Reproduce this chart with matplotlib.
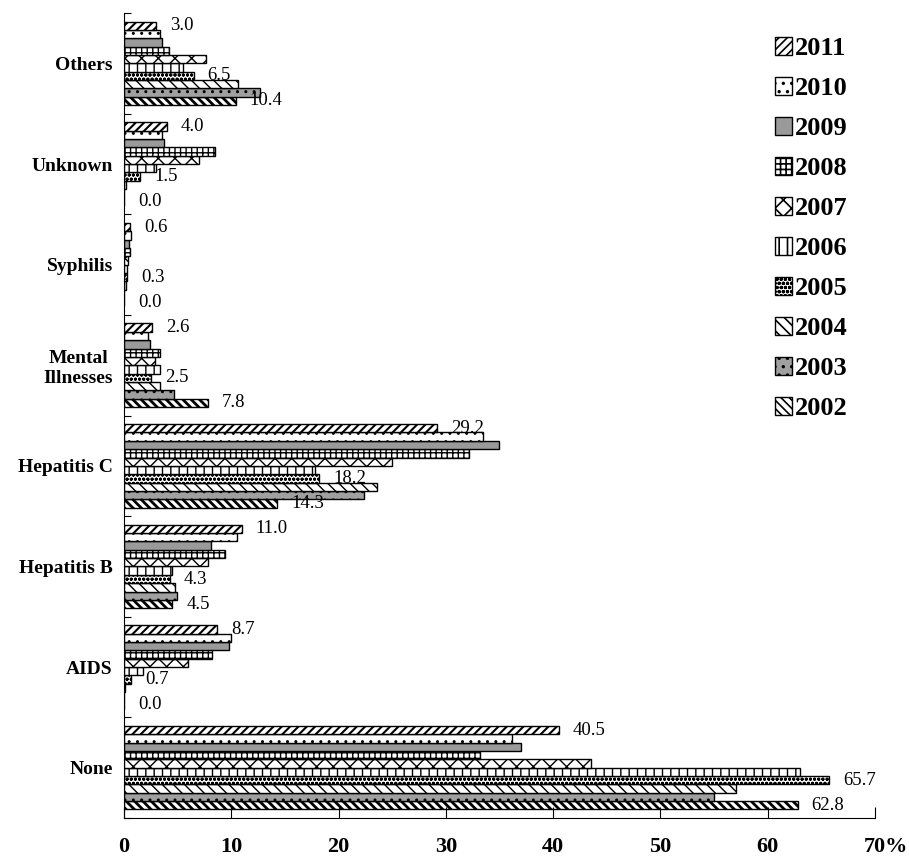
import numpy as np
import matplotlib
matplotlib.use('Agg')
import matplotlib.pyplot as plt
import matplotlib.transforms as mtransforms

plt.rcParams['font.family'] = ['Liberation Serif', 'DejaVu Serif']
plt.rcParams['hatch.linewidth'] = 1.2

# categories bottom -> top
categories = ['None', 'AIDS', 'Hepatitis B', 'Hepatitis C', 'Mental\nIllnesses',
              'Syphilis', 'Unknown', 'Others']
years = ['2002', '2003', '2004', '2005', '2006', '2007', '2008', '2009', '2010', '2011']

# percent per year, same order as categories
v2002 = [62.8, 0.0, 4.5, 14.3, 7.8, 0.0, 0.0, 10.4]
v2003 = [55.0, 0.0, 4.9, 22.4, 4.7, 0.0, 0.0, 12.7]
v2004 = [57.0, 0.1, 4.8, 23.6, 3.4, 0.2, 0.2, 10.6]
v2005 = [65.7, 0.7, 4.3, 18.2, 2.5, 0.3, 1.5, 6.5]
v2006 = [63.0, 1.8, 4.5, 17.8, 3.4, 0.3, 3.0, 5.5]
v2007 = [43.5, 6.0, 7.8, 25.0, 2.9, 0.4, 7.0, 7.6]
v2008 = [33.2, 8.2, 9.4, 32.2, 3.4, 0.55, 8.5, 4.2]
v2009 = [37.0, 9.8, 8.1, 35.0, 2.4, 0.5, 3.7, 3.5]
v2010 = [36.2, 10.0, 10.5, 33.5, 2.2, 0.7, 3.5, 3.4]
v2011 = [40.5, 8.7, 11.0, 29.2, 2.6, 0.6, 4.0, 3.0]
values = [v2002, v2003, v2004, v2005, v2006, v2007, v2008, v2009, v2010, v2011]

labelled_years = ['2002', '2005', '2011']

# fill, hatch, hatch line width
styles = {
    '2002': ('white', '\\\\\\\\', 2.0),
    '2003': ('#a0a0a0', '..', 1.0),
    '2004': ('white', '\\\\\\', 1.0),
    '2005': ('white', 'oooo', 1.0),
    '2006': ('white', '||', 1.0),
    '2007': ('white', 'xx', 1.0),
    '2008': ('white', '+++', 1.0),
    '2009': ('#9a9a9a', '', 1.0),
    '2010': ('white', '..', 1.0),
    '2011': ('white', '////', 1.5),
}

fig = plt.figure(figsize=(9.09, 8.6), dpi=100)
ax = fig.add_axes([0.1364, 0.0488, 0.8262, 0.936])

h = 0.083
y = np.arange(len(categories))
handles = {}
for j, yr in enumerate(years):
    fc, hatch, hlw = styles[yr]
    pos = y - 5 * h + (j + 0.5) * h
    with plt.rc_context({'hatch.linewidth': hlw}):
        bars = ax.barh(pos, values[j], height=h, color=fc, hatch=hatch,
                       edgecolor='black', linewidth=1.0, label=yr)
    handles[yr] = bars
    if yr in labelled_years:
        for p, v in zip(pos, values[j]):
            ax.annotate(f'{v:.1f}', (v, p), xytext=(10, 0), textcoords='offset points',
                        va='center', ha='left', fontsize=13.5)

ax.set_xlim(0, 70)
ax.set_ylim(-0.5, len(categories) - 0.5)

ax.spines['top'].set_visible(False)
ax.spines['right'].set_visible(False)

ax.set_xticks(np.arange(0, 71, 10))
ax.set_xticklabels(['0', '10', '20', '30', '40', '50', '60', '70%'],
                   fontsize=16, fontweight='bold')
ax.tick_params(axis='x', direction='in', length=8, pad=14)
last = ax.get_xticklabels()[-1]
last.set_transform(last.get_transform() +
                   mtransforms.ScaledTranslation(11 / 100, 0, fig.dpi_scale_trans))

ax.set_yticks(np.arange(-0.5, len(categories), 1.0))
ax.set_yticklabels([])
ax.tick_params(axis='y', which='major', direction='in', length=5)
ax.set_yticks(y, minor=True)
ax.set_yticklabels(categories, minor=True, fontsize=14, fontweight='bold',
                   multialignment='center')
ax.tick_params(axis='y', which='minor', length=0, pad=8)

order = years[::-1]
fig.legend([handles[yr] for yr in order], order, loc='upper left',
           bbox_to_anchor=(0.841, 0.969), frameon=False,
           prop={'size': 19, 'weight': 'bold'},
           handlelength=0.65, handleheight=0.65, handletextpad=0.1,
           labelspacing=0.64, borderaxespad=0)

fig.savefig('out.png', dpi=100)
